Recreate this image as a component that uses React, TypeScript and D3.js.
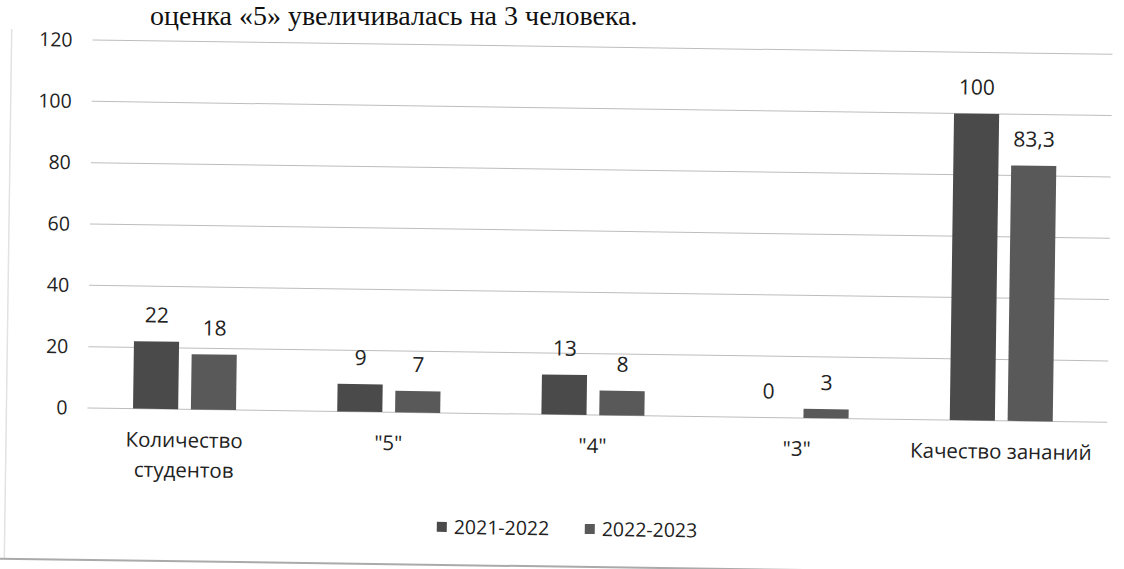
import React, { useEffect } from 'react';
import * as d3 from 'd3';

const categories = [['Количество', 'студентов'], ['"5"'], ['"4"'], ['"3"'], ['Качество зананий']];
const series = ['2021-2022', '2022-2023'];
const values2021 = [22, 9, 13, 0, 100];
const values2022 = [18, 7, 8, 3, 83.3];
const yTicks = [0, 20, 40, 60, 80, 100, 120];

const colors = ['#4a4a4a', '#595959'];
const fmt = (v: number) => String(v).replace('.', ',');

const App: React.FC = () => {
  useEffect(() => {
    document.body.style.margin = '0';
  }, []);

  const width = 1124;
  const height = 569;
  const font = '"Open Sans", "DejaVu Sans", sans-serif';
  const ink = '#222';

  const catKeys = categories.map((c) => c.join(' '));
  const x0 = d3.scaleBand().domain(catKeys).range([85, 1106]);
  const groupW = 103;
  const x1 = d3.scaleBand().domain(series).range([0, groupW]).paddingInner(0.22);
  const y = d3.scaleLinear().domain([0, 120]).range([408, 40]);

  const data = [values2021, values2022];

  return (
    <svg width={width} height={height} style={{ display: 'block', background: '#fff' }}>
      {/* caption line from the page above the chart */}
      <text x={150} y={25} fontFamily='"Liberation Serif", "Times New Roman", serif' fontSize={28} fill="#111">
        оценка «5» увеличивалась на 3 человека.
      </text>

      <g transform="rotate(0.8, 90, 224)">
        {/* chart frame */}
        <line x1={9} x2={9} y1={30} y2={560} stroke="#e2e2e2" strokeWidth={1.5} />
        <line x1={0} x2={1124} y1={560} y2={560} stroke="#aaa" strokeWidth={2} />

        {/* grid + y labels */}
        {yTicks.map((t) => (
          <g key={t}>
            <line x1={90} x2={1110} y1={y(t)} y2={y(t)} stroke="#bdbdbd" strokeWidth={1} />
            <text x={70} y={y(t)} dy="0.35em" textAnchor="end" fontFamily={font} fontSize={19.5} fill={ink}>
              {t}
            </text>
          </g>
        ))}

        {/* bars */}
        {catKeys.map((c, i) => {
          const gx = (x0(c) as number) + (x0.bandwidth() - groupW) / 2;
          return (
            <g key={c} transform={`translate(${gx},0)`}>
              {series.map((s, si) => {
                const v = data[si][i];
                const bx = x1(s) as number;
                return (
                  <g key={s}>
                    {v > 0 && (
                      <rect
                        x={bx}
                        y={y(v)}
                        width={x1.bandwidth()}
                        height={y(0) - y(v)}
                        fill={colors[si]}
                      />
                    )}
                    <text
                      x={bx + x1.bandwidth() / 2}
                      y={y(v) - 19}
                      textAnchor="middle"
                      fontFamily={font}
                      fontSize={21}
                      fill={ink}
                    >
                      {fmt(v)}
                    </text>
                  </g>
                );
              })}
            </g>
          );
        })}

        {/* category labels */}
        {categories.map((lines, i) => {
          const cx = (x0(catKeys[i]) as number) + x0.bandwidth() / 2;
          return (
            <text key={i} x={cx} y={446} textAnchor="middle" fontFamily={font} fontSize={20.5} fill={ink}>
              {lines.map((l, li) => (
                <tspan key={li} x={cx} dy={li === 0 ? 0 : 30}>
                  {l}
                </tspan>
              ))}
            </text>
          );
        })}

        {/* legend */}
        {series.map((s, si) => {
          const lx = 441 + si * 148;
          return (
            <g key={s} transform={`translate(${lx}, 522)`}>
              <rect x={0} y={-5} width={10} height={10} fill={colors[si]} />
              <text x={17} y={0} dy="0.35em" fontFamily={font} fontSize={19.5} fill={ink}>
                {s}
              </text>
            </g>
          );
        })}
      </g>
    </svg>
  );
};

export default App;
